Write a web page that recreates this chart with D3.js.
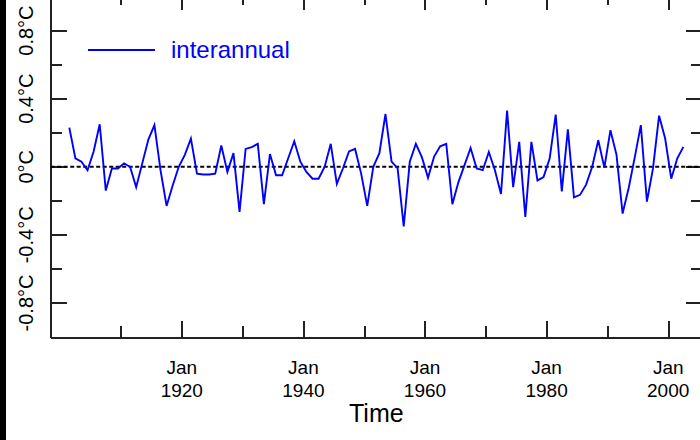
<!DOCTYPE html>
<html>
<head>
<meta charset="utf-8">
<script src="https://cdn.jsdelivr.net/npm/d3@7"></script>
<style>
  body { margin: 0; background: #fff; }
  svg { display: block; font-family: "Liberation Sans", Arial, sans-serif; }
  .axis path, .axis line { stroke: #222; stroke-width: 2; shape-rendering: crispEdges; }
</style>
</head>
<body>
<svg id="chart" width="700" height="440"></svg>
<script>
// annual anomalies, plotted at mid-year
const years = [
  1901, 1902, 1903, 1904, 1905, 1906, 1907, 1908, 1909, 1910,
  1911, 1912, 1913, 1914, 1915, 1916, 1917, 1918, 1919, 1920,
  1921, 1922, 1923, 1924, 1925, 1926, 1927, 1928, 1929, 1930,
  1931, 1932, 1933, 1934, 1935, 1936, 1937, 1938, 1939, 1940,
  1941, 1942, 1943, 1944, 1945, 1946, 1947, 1948, 1949, 1950,
  1951, 1952, 1953, 1954, 1955, 1956, 1957, 1958, 1959, 1960,
  1961, 1962, 1963, 1964, 1965, 1966, 1967, 1968, 1969, 1970,
  1971, 1972, 1973, 1974, 1975, 1976, 1977, 1978, 1979, 1980,
  1981, 1982, 1983, 1984, 1985, 1986, 1987, 1988, 1989, 1990,
  1991, 1992, 1993, 1994, 1995, 1996, 1997, 1998, 1999, 2000,
  2001, 2002
];
const interannual = [
  0.23, 0.05, 0.03, -0.02, 0.09, 0.25, -0.14, -0.01, -0.01, 0.02,
  0.0, -0.12, 0.02, 0.16, 0.245, -0.02, -0.23, -0.11, 0.0, 0.07,
  0.165, -0.04, -0.045, -0.045, -0.04, 0.125, -0.03, 0.08, -0.265, 0.105,
  0.115, 0.135, -0.22, 0.075, -0.05, -0.05, 0.05, 0.15, 0.03, -0.03,
  -0.07, -0.07, 0.0, 0.135, -0.10, -0.01, 0.09, 0.105, -0.04, -0.23,
  0.0, 0.08, 0.31, 0.03, -0.01, -0.35, 0.03, 0.135, 0.055, -0.065,
  0.06, 0.12, 0.135, -0.22, -0.09, 0.01, 0.11, -0.01, -0.02, 0.087,
  -0.02, -0.16, 0.33, -0.12, 0.146, -0.295, 0.146, -0.08, -0.06, 0.048,
  0.307, -0.145, 0.22, -0.18, -0.165, -0.105, 0.0, 0.156, -0.005, 0.215,
  0.07, -0.275, -0.125, 0.055, 0.245, -0.205, -0.01, 0.30, 0.166, -0.07,
  0.05, 0.117
];

const majorYears = [1920, 1940, 1960, 1980, 2000];
const minorYears = [1910, 1930, 1950, 1970, 1990];
const majorTemps = [-0.8, -0.4, 0, 0.4, 0.8];
const minorTemps = [-0.6, -0.2, 0.2, 0.6];
const tempLabels = ["-0.8°C", "-0.4°C", "0°C", "0.4°C", "0.8°C"];
const monthLabel = "Jan";
const legendLabel = "interannual";
const xTitle = "Time";

const svg = d3.select("#chart");
const plotLeft = 50.7, plotRight = 702, plotTop = -6, plotBottom = 337;

const x = d3.scaleLinear().domain([1898.44, 2005.56]).range([plotLeft, plotRight]);
const y = d3.scaleLinear().domain([-1, 1.015]).range([plotBottom, plotTop]);

// black strip on the far left
svg.append("rect").attr("x", 0).attr("y", 0)
  .attr("width", 6).attr("height", 440).attr("fill", "#000");

function drawAxis(axis, tx, ty, keepDomain) {
  const g = svg.append("g").attr("class", "axis")
    .attr("transform", `translate(${tx},${ty})`)
    .call(axis);
  if (!keepDomain) g.select(".domain").remove();
  g.selectAll("text").remove();
  return g;
}

// major + minor ticks on all four sides, pointing inwards
drawAxis(d3.axisBottom(x).tickValues(majorYears).tickSizeInner(-16).tickSizeOuter(0), 0, plotBottom, true);
drawAxis(d3.axisBottom(x).tickValues(minorYears).tickSizeInner(-11).tickSizeOuter(0), 0, plotBottom, false);
drawAxis(d3.axisTop(x).tickValues(majorYears).tickSizeInner(-16).tickSizeOuter(0), 0, plotTop, true);
drawAxis(d3.axisTop(x).tickValues(minorYears).tickSizeInner(-11).tickSizeOuter(0), 0, plotTop, false);
drawAxis(d3.axisLeft(y).tickValues(majorTemps).tickSizeInner(-16).tickSizeOuter(0), plotLeft, 0, true);
drawAxis(d3.axisLeft(y).tickValues(minorTemps).tickSizeInner(-11).tickSizeOuter(0), plotLeft, 0, false);
drawAxis(d3.axisRight(y).tickValues(majorTemps).tickSizeInner(-16).tickSizeOuter(0), plotRight, 0, true);
drawAxis(d3.axisRight(y).tickValues(minorTemps).tickSizeInner(-11).tickSizeOuter(0), plotRight, 0, false);

// zero reference line
svg.append("line")
  .attr("x1", plotLeft).attr("x2", plotRight)
  .attr("y1", y(0)).attr("y2", y(0))
  .attr("stroke", "#000").attr("stroke-width", 2)
  .attr("stroke-dasharray", "4,2.5");

// series
const line = d3.line()
  .x((d, i) => x(years[i] + 0.5))
  .y((d) => y(d));

svg.append("path")
  .datum(interannual)
  .attr("d", line)
  .attr("fill", "none")
  .attr("stroke", "#0000ff")
  .attr("stroke-width", 1.9)
  .attr("stroke-linejoin", "miter");

// y labels, rotated
svg.selectAll("text.ylab")
  .data(majorTemps)
  .enter()
  .append("text")
  .attr("class", "ylab")
  .attr("transform", (d) => `translate(33,${y(d)}) rotate(-90)`)
  .attr("text-anchor", "middle")
  .attr("font-size", 20)
  .attr("fill", "#000")
  .text((d, i) => tempLabels[i]);

// x labels: "Jan" over the year
const xlab = svg.selectAll("g.xlab")
  .data(majorYears)
  .enter()
  .append("g")
  .attr("class", "xlab")
  .attr("transform", (d) => `translate(${x(d)},0)`);
xlab.append("text")
  .attr("y", 374).attr("text-anchor", "middle")
  .attr("font-size", 19).text(monthLabel);
xlab.append("text")
  .attr("y", 397).attr("text-anchor", "middle")
  .attr("font-size", 19).text((d) => d);

svg.append("text")
  .attr("x", (plotLeft + plotRight) / 2).attr("y", 422)
  .attr("text-anchor", "middle")
  .attr("font-size", 25)
  .text(xTitle);

// legend
svg.append("line")
  .attr("x1", 88).attr("x2", 155)
  .attr("y1", 50).attr("y2", 50)
  .attr("stroke", "#0000ff").attr("stroke-width", 1.9);
svg.append("text")
  .attr("x", 171).attr("y", 58)
  .attr("font-size", 24)
  .attr("fill", "#0000ff")
  .text(legendLabel);
</script>
</body>
</html>
